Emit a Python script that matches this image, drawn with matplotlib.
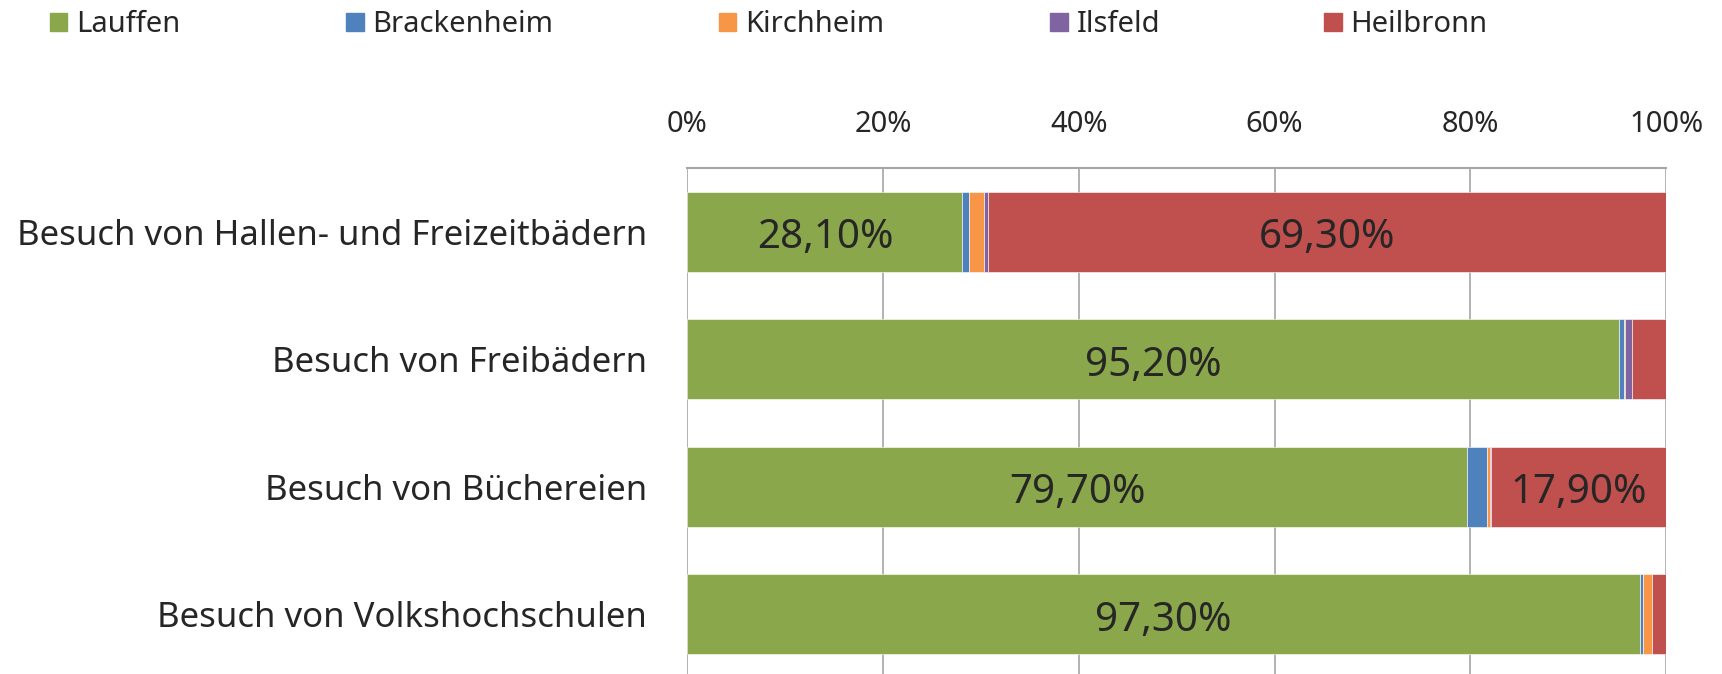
import matplotlib.pyplot as plt
import matplotlib.patches as mpatches
import numpy as np

plt.rcParams['font.family'] = ['Noto Sans', 'DejaVu Sans']

# Daten (Anteile in %)
kategorien = ['Besuch von Hallen- und Freizeitbädern', 'Besuch von Freibädern',
              'Besuch von Büchereien', 'Besuch von Volkshochschulen']
orte = ['Lauffen', 'Brackenheim', 'Kirchheim', 'Ilsfeld', 'Heilbronn']
lauffen = [28.1, 95.2, 79.7, 97.3]
brackenheim = [0.7, 0.5, 2.0, 0.3]
kirchheim = [1.5, 0.1, 0.3, 1.0]
ilsfeld = [0.4, 0.7, 0.1, 0.0]
heilbronn = [69.3, 3.5, 17.9, 1.4]
werte = [lauffen, brackenheim, kirchheim, ilsfeld, heilbronn]
farben = ['#8BA74B', '#4F81BD', '#F79646', '#8064A2', '#C0504D']
xticks = [0, 20, 40, 60, 80, 100]

textfarbe = '#262626'
gitter = '#A6A6A6'

fig = plt.figure(figsize=(17.22, 6.74), dpi=100)
ax = fig.add_axes([0.3992, -0.006, 0.5683, 0.7567])

y = np.arange(len(kategorien))
links = np.zeros(len(kategorien))
for w, f, name in zip(werte, farben, orte):
    w = np.array(w)
    bars = ax.barh(y, w, left=links, height=0.63, color=f, edgecolor='white',
                   linewidth=0.4, label=name)
    for i, b in enumerate(bars):
        if w[i] > 10 and name in ('Lauffen', 'Heilbronn'):
            txt = ('%.2f%%' % w[i]).replace('.', ',')
            ax.text(links[i] + w[i] / 2, y[i] + 0.05, txt, ha='center', va='center',
                    fontsize=29, color=textfarbe)
    links = links + w

ax.set_xlim(0, 100)
ax.set_ylim(len(kategorien) - 0.5, -0.5)
ax.set_yticks(y)
ax.set_yticklabels(kategorien, fontsize=25, color=textfarbe)
ax.set_xticks(xticks)
ax.set_xticklabels(['%d%%' % t for t in xticks], fontsize=21, color=textfarbe)
ax.xaxis.tick_top()
ax.tick_params(axis='x', length=0, pad=21)
ax.tick_params(axis='y', length=0, pad=29)
ax.grid(axis='x', color=gitter, linewidth=1.2)
ax.set_axisbelow(True)
for s in ['left', 'right', 'bottom']:
    ax.spines[s].set_visible(False)
ax.spines['top'].set_color(gitter)
ax.spines['top'].set_linewidth(1.5)

# Legende oben links
leg_x = [0.029, 0.201, 0.4175, 0.610, 0.769]
for name, f, lx in zip(orte, farben, leg_x):
    h = mpatches.Patch(color=f)
    lg = fig.legend([h], [name], loc='center left', bbox_to_anchor=(lx, 0.963),
                    frameon=False, fontsize=21, handlelength=0.6, handleheight=0.6,
                    handletextpad=0.3, borderaxespad=0, borderpad=0)
    for t in lg.get_texts():
        t.set_color(textfarbe)

fig.savefig('out.png', dpi=100)
